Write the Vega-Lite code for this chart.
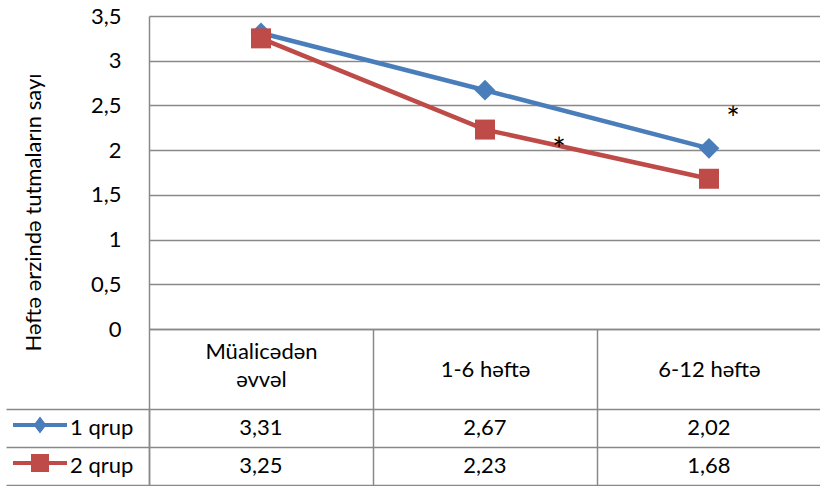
{
  "$schema": "https://vega.github.io/schema/vega-lite/v6.json",
  "padding": {"left": 5, "top": 5, "right": 0, "bottom": 0},
  "bounds": "flush",
  "spacing": 80,
  "config": {
    "font": "Lato",
    "locale": {"number": {"decimal": ",", "thousands": ".", "grouping": [3], "currency": ["", ""]}},
    "view": {"stroke": null},
    "axis": {
      "labelFont": "Lato", "labelFontSize": 22, "labelColor": "#000",
      "titleFont": "Lato", "titleColor": "#000", "titleFontWeight": "normal",
      "domainColor": "#898989", "gridColor": "#898989", "tickColor": "#898989",
      "gridOpacity": 1, "domainWidth": 1.5, "gridWidth": 1.5, "tickWidth": 1.5
    },
    "text": {"font": "Lato"}
  },
  "datasets": {
    "series": [
      {"cat": "Müalicədən əvvəl", "grp": "1 qrup", "val": 3.31},
      {"cat": "1-6 həftə", "grp": "1 qrup", "val": 2.67},
      {"cat": "6-12 həftə", "grp": "1 qrup", "val": 2.02},
      {"cat": "Müalicədən əvvəl", "grp": "2 qrup", "val": 3.25},
      {"cat": "1-6 həftə", "grp": "2 qrup", "val": 2.23},
      {"cat": "6-12 həftə", "grp": "2 qrup", "val": 1.68}
    ],
    "stars": [
      {"id": 1, "cat": "6-12 həftə", "y": 2.34, "s": "*"},
      {"id": 2, "cat": "1-6 həftə", "y": 1.99, "s": "*"}
    ]
  },
  "vconcat": [
    {
      "width": 672,
      "height": 313,
      "layer": [
        {
          "data": {"name": "series"},
          "mark": {"type": "line", "strokeWidth": 4.5},
          "encoding": {
            "x": {
              "field": "cat", "type": "nominal",
              "scale": {"type": "band", "domain": ["Müalicədən əvvəl", "1-6 həftə", "6-12 həftə"], "paddingInner": 0, "paddingOuter": 0},
              "axis": {
                "title": null, "domain": true, "ticks": true, "tickBand": "extent", "tickSize": 80,
                "labelPadding": {"condition": {"test": "datum.value == 'Müalicədən əvvəl'", "value": -58}, "value": -40},
                "labelBaseline": "middle", "labelLineHeight": 28, "labelAngle": 0,
                "labelExpr": "datum.label == 'Müalicədən əvvəl' ? ['Müalicədən', 'əvvəl'] : datum.label",
                "grid": false
              }
            },
            "y": {
              "field": "val", "type": "quantitative",
              "scale": {"domain": [0, 3.5], "nice": false},
              "axis": {
                "values": [0, 0.5, 1, 1.5, 2, 2.5, 3, 3.5], "format": ".1~f", "grid": true, "ticks": false,
                "labelPadding": 28, "title": "Həftə ərzində tutmaların sayı", "titleFontSize": 22,
                "titleX": -104, "titleY": 196
              }
            },
            "color": {
              "field": "grp", "type": "nominal",
              "scale": {"domain": ["1 qrup", "2 qrup"], "range": ["#4a7ebb", "#be4b48"]},
              "legend": {
                "orient": "none", "legendX": -143, "legendY": 393, "title": null,
                "labelFontSize": 22, "labelFont": "Lato", "labelColor": "#000", "labelOffset": 3,
                "clipHeight": 38, "rowPadding": 0, "padding": 0, "symbolOffset": 7,
                "symbolSize": 2916,
                "encode": {
                  "symbols": {
                    "update": {
                      "shape": {"signal": "datum.value === '1 qrup' ? 'M-1,-0.185L1,-0.185L1,-0.037L-1,-0.037ZM0,-0.426L0.24,-0.111L0,0.204L-0.24,-0.111Z' : 'M-1,-0.185L1,-0.185L1,-0.037L-1,-0.037ZM-0.333,-0.444L0.333,-0.444L0.333,0.222L-0.333,0.222Z'"},
                      "size": {"value": 2916},
                      "fill": {"signal": "scale('color', datum.value)"},
                      "strokeWidth": {"value": 0},
                      "opacity": {"value": 1},
                      "fillOpacity": {"value": 1}
                    }
                  }
                }
              }
            }
          }
        },
        {
          "data": {"name": "series"},
          "transform": [{"filter": "datum.grp == '1 qrup'"}],
          "mark": {"type": "point", "filled": true, "opacity": 1, "size": 430, "shape": "diamond"},
          "encoding": {
            "x": {"field": "cat", "type": "nominal"},
            "y": {"field": "val", "type": "quantitative"},
            "color": {"field": "grp", "type": "nominal"}
          }
        },
        {
          "data": {"name": "series"},
          "transform": [{"filter": "datum.grp == '2 qrup'"}],
          "mark": {"type": "point", "filled": true, "opacity": 1, "size": 400, "shape": "square"},
          "encoding": {
            "x": {"field": "cat", "type": "nominal"},
            "y": {"field": "val", "type": "quantitative"},
            "color": {"field": "grp", "type": "nominal"}
          }
        },
        {
          "data": {"name": "stars"},
          "transform": [{"filter": "datum.id == 1"}],
          "mark": {"type": "text", "dx": 24, "fontSize": 32, "baseline": "middle", "color": "#000"},
          "encoding": {
            "x": {"field": "cat", "type": "nominal"},
            "y": {"field": "y", "type": "quantitative"},
            "text": {"field": "s"}
          }
        },
        {
          "data": {"name": "stars"},
          "transform": [{"filter": "datum.id == 2"}],
          "mark": {"type": "text", "dx": 74, "fontSize": 32, "baseline": "middle", "color": "#000"},
          "encoding": {
            "x": {"field": "cat", "type": "nominal"},
            "y": {"field": "y", "type": "quantitative"},
            "text": {"field": "s"}
          }
        }
      ]
    },
    {
      "width": 672,
      "height": 76,
      "data": {"name": "series"},
      "layer": [
        {
          "mark": {"type": "text", "fontSize": 22, "color": "#000"},
          "encoding": {
            "x": {
              "field": "cat", "type": "nominal",
              "scale": {"type": "band", "domain": ["Müalicədən əvvəl", "1-6 həftə", "6-12 həftə"], "paddingInner": 0, "paddingOuter": 0},
              "axis": {"orient": "top", "title": null, "labels": false, "ticks": false, "domain": false, "grid": true, "tickBand": "extent"}
            },
            "y": {
              "field": "grp", "type": "nominal",
              "scale": {"type": "band", "domain": ["1 qrup", "2 qrup"], "paddingInner": 0, "paddingOuter": 0},
              "axis": {"title": null, "labels": false, "ticks": true, "tickSize": 143, "tickBand": "extent", "grid": true, "domain": true}
            },
            "text": {"field": "val", "type": "quantitative", "format": ".2f"}
          }
        },
        {
          "mark": {"type": "text", "opacity": 0},
          "encoding": {
            "x": {"field": "cat", "type": "nominal"},
            "y": {
              "field": "grp", "type": "nominal",
              "axis": {"title": null, "labels": false, "ticks": false, "grid": false, "domain": true, "offset": 143}
            },
            "text": {"field": "val", "type": "quantitative", "format": ".2f"}
          }
        }
      ],
      "resolve": {"axis": {"y": "independent"}}
    }
  ]
}
